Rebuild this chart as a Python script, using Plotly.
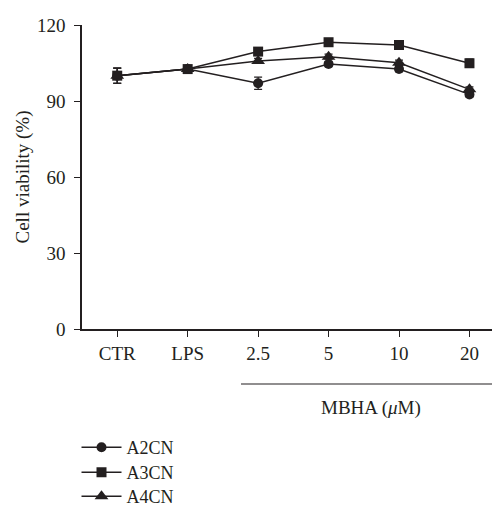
import plotly.graph_objects as go

categories = ["CTR", "LPS", "2.5", "5", "10", "20"]
a2cn = [100, 102.6, 97.0, 104.6, 102.6, 92.6]
a3cn = [100, 102.6, 109.5, 113.2, 112.1, 104.9]
a4cn = [100, 102.6, 105.8, 107.5, 105.1, 94.6]
a2cn_err = [3.0, 1.0, 2.4, 1.0, 1.0, 1.0]
a3cn_err = [3.0, 1.0, 1.2, 1.0, 1.0, 1.6]
a4cn_err = [3.0, 1.0, 1.0, 1.0, 1.0, 1.0]
y_ticks = [0, 30, 60, 90, 120]

INK = "#231f20"
FONT = "Liberation Serif"
W, H = 492, 508
L, R, T, B = 81.5, 0, 25, 179
pw = W - L - R
ph = H - T - B

def px_x(x):
    return (x - L) / pw

def px_y(y):
    return (H - B - y) / ph

xs = list(range(len(categories)))

fig = go.Figure()
series = [
    ("A2CN", a2cn, a2cn_err, "circle", 10, "legend", 447),
    ("A3CN", a3cn, a3cn_err, "square", 10, "legend2", 472),
    ("A4CN", a4cn, a4cn_err, "triangle-up", 12, "legend3", 496),
]
legends = {}
for name, vals, err, sym, size, lg, row_y in series:
    fig.add_trace(go.Scatter(
        x=xs, y=vals, name=name, mode="lines+markers", legend=lg,
        line=dict(color=INK, width=1.5),
        marker=dict(symbol=sym, size=size, color=INK),
        error_y=dict(type="data", array=err, visible=True, color=INK,
                     thickness=1.2, width=4),
    ))
    legends[lg] = dict(
        x=px_x(76), y=px_y(row_y - 18), xanchor="left", yanchor="top",
        orientation="v", bgcolor="rgba(0,0,0,0)",
        font=dict(family=FONT, size=18, color=INK),
        itemwidth=40,
    )

fig.update_layout(
    width=W, height=H,
    margin=dict(l=L, r=R, t=T, b=B, pad=0, autoexpand=False),
    plot_bgcolor="white", paper_bgcolor="white",
    font=dict(family=FONT, size=19, color=INK),
    showlegend=True,
    xaxis=dict(
        range=[-0.5, 5.32], tickmode="array", tickvals=xs, ticktext=categories,
        showline=True, linecolor=INK, linewidth=1.5,
        ticks="outside", ticklen=6, tickwidth=1.2, tickcolor=INK,
        showgrid=False, zeroline=False, automargin=False,
    ),
    yaxis=dict(
        range=[0, 120], tickmode="array", tickvals=y_ticks,
        showline=True, linecolor=INK, linewidth=1.5,
        ticks="outside", ticklen=6, tickwidth=1.2, tickcolor=INK,
        ticklabelstandoff=5,
        showgrid=False, zeroline=False, automargin=False,
        title=dict(text="Cell viability (%)", standoff=2,
                   font=dict(family=FONT, size=19, color=INK)),
    ),
    **legends,
)

fig.add_shape(type="line", xref="paper", yref="paper",
              x0=px_x(240.7), x1=1.0, y0=px_y(384), y1=px_y(384),
              line=dict(color=INK, width=1.2))
fig.add_annotation(xref="paper", yref="paper", x=px_x(371), y=px_y(408),
                   text="MBHA (<i>μ</i>M)", showarrow=False,
                   xanchor="center", yanchor="middle",
                   font=dict(family=FONT, size=19, color=INK))

fig.write_html(
    "out.html",
    config={"displayModeBar": False},
    post_script="document.body.style.margin='0';document.body.style.padding='0';",
)
